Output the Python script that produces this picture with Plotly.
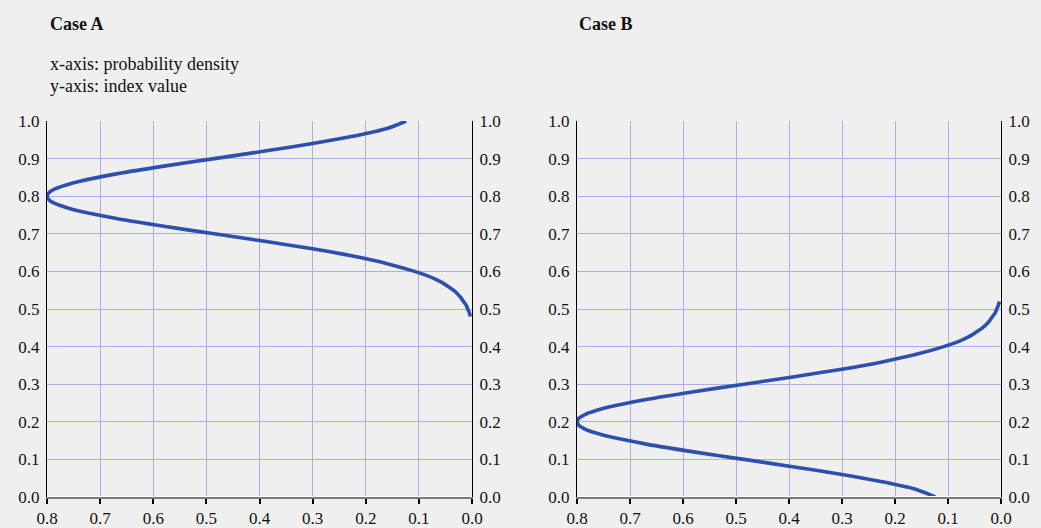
import plotly.graph_objects as go

# Case A: index value vs probability density
case_a_index = [0.48, 0.49, 0.50, 0.51, 0.52, 0.53, 0.54, 0.55, 0.56, 0.57, 0.58, 0.59,
                0.60, 0.62, 0.64, 0.66, 0.68, 0.70, 0.72, 0.74, 0.76, 0.77, 0.78, 0.79,
                0.80, 0.81, 0.82, 0.83, 0.84, 0.86, 0.88, 0.90, 0.92, 0.94, 0.96, 0.98, 1.00]
case_a_density = [0.003, 0.005, 0.008, 0.011, 0.016, 0.021, 0.027, 0.035, 0.045, 0.056,
                  0.070, 0.087, 0.108, 0.158, 0.222, 0.300, 0.390, 0.485, 0.580, 0.667,
                  0.738, 0.764, 0.784, 0.796, 0.800, 0.796, 0.784, 0.764, 0.738, 0.667,
                  0.580, 0.485, 0.390, 0.300, 0.222, 0.160, 0.124]

# Case B
case_b_index = [0.52, 0.51, 0.50, 0.49, 0.48, 0.47, 0.46, 0.45, 0.44, 0.43, 0.42, 0.41,
                0.40, 0.38, 0.36, 0.34, 0.32, 0.30, 0.28, 0.26, 0.24, 0.23, 0.22, 0.21,
                0.20, 0.19, 0.18, 0.17, 0.16, 0.14, 0.12, 0.10, 0.08, 0.06, 0.04, 0.02, 0.00]
case_b_density = [0.003, 0.005, 0.008, 0.011, 0.016, 0.021, 0.027, 0.035, 0.045, 0.056,
                  0.070, 0.087, 0.108, 0.158, 0.222, 0.300, 0.390, 0.485, 0.580, 0.667,
                  0.738, 0.764, 0.784, 0.796, 0.800, 0.796, 0.784, 0.764, 0.738, 0.667,
                  0.580, 0.485, 0.390, 0.300, 0.222, 0.160, 0.124]

y_ticks = [0.0, 0.1, 0.2, 0.3, 0.4, 0.5, 0.6, 0.7, 0.8, 0.9, 1.0]
x_ticks = [0.8, 0.7, 0.6, 0.5, 0.4, 0.3, 0.2, 0.1, 0.0]

W, H = 1041, 528
FONT = "Liberation Serif"
LINE = "#2d4fae"
GRID = "#aab0e6"
BG = "#efefef"

def px(x):
    return x / W

def py(y):
    return 1 - y / H

dom_a = [px(47), px(472)]
dom_b = [px(577), px(1001)]
dom_y = [py(497), py(121)]

fig = go.Figure()
fig.add_trace(go.Scatter(x=case_a_density, y=case_a_index, mode="lines",
                         line=dict(color=LINE, width=3.6, shape="spline", smoothing=0.8),
                         xaxis="x", yaxis="y", showlegend=False))
fig.add_trace(go.Scatter(x=case_b_density, y=case_b_index, mode="lines",
                         line=dict(color=LINE, width=3.6, shape="spline", smoothing=0.8),
                         xaxis="x2", yaxis="y2", showlegend=False))
# invisible traces to anchor the right-side axes
fig.add_trace(go.Scatter(x=case_a_density, y=case_a_index, mode="lines", opacity=0,
                         xaxis="x", yaxis="y3", showlegend=False, hoverinfo="skip"))
fig.add_trace(go.Scatter(x=case_b_density, y=case_b_index, mode="lines", opacity=0,
                         xaxis="x2", yaxis="y4", showlegend=False, hoverinfo="skip"))

tickfont = dict(family=FONT, size=17, color="#111111")

xcommon = dict(range=[0.8, 0.0], tickvals=x_ticks, ticktext=[f"{v:.1f}" for v in x_ticks],
               showgrid=True, gridcolor=GRID, gridwidth=1, zeroline=False,
               showline=True, linecolor="#7a7a7a", linewidth=2,
               ticks="outside", ticklen=5, tickwidth=2, tickcolor="#000000",
               tickfont=tickfont, fixedrange=True, automargin=False)
ycommon = dict(range=[0.0, 1.0], tickvals=y_ticks, ticktext=[f"{v:.1f}" for v in y_ticks],
               domain=dom_y, zeroline=False, showline=True, linecolor="#000000", linewidth=1,
               ticks="outside", ticklen=3, tickcolor="rgba(0,0,0,0)",
               tickfont=tickfont, fixedrange=True, automargin=False)

fig.update_layout(
    template="none",
    width=W, height=H,
    margin=dict(l=0, r=0, t=0, b=0, pad=0, autoexpand=False),
    paper_bgcolor=BG, plot_bgcolor=BG,
    xaxis=dict(domain=dom_a, anchor="y", **xcommon),
    xaxis2=dict(domain=dom_b, anchor="y2", **xcommon),
    yaxis=dict(anchor="x", side="left", showgrid=True, gridcolor=GRID, **ycommon),
    yaxis2=dict(anchor="x2", side="left", showgrid=True, gridcolor=GRID, **ycommon),
    yaxis3=dict(anchor="x", overlaying="y", side="right", showgrid=False, **ycommon),
    yaxis4=dict(anchor="x2", overlaying="y2", side="right", showgrid=False, **ycommon),
)

# white highlight line along the bottom of each plot
for xr, yr in (("x", "y"), ("x2", "y2")):
    fig.add_shape(type="line", xref=f"{xr} domain", yref=yr, x0=0, x1=1, y0=0, y1=0,
                  line=dict(color="#ffffff", width=2), layer="above")

texts = [
    ("<b>Case A</b>", 48, 24, 18),
    ("x-axis: probability density", 48, 64, 18),
    ("y-axis: index value", 48, 86, 18),
    ("<b>Case B</b>", 577, 24, 18),
]
for t, x, y, s in texts:
    fig.add_annotation(text=t, x=px(x), y=py(y), xref="paper", yref="paper",
                       xanchor="left", yanchor="middle", showarrow=False,
                       font=dict(family=FONT, size=s, color="#111111"))

fig.write_html(
    "out.html",
    config={"displayModeBar": False},
    post_script="document.body.style.margin='0px';document.body.style.background='#efefef';",
)
